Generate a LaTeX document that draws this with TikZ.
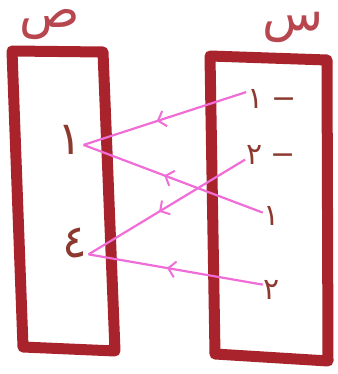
\documentclass[tikz,border=0pt]{standalone}
\usepackage{fontspec}
\newfontfamily\arabicfont[Script=Arabic]{DejaVu Sans}
\TeXXeTstate=1
\usetikzlibrary{arrows.meta,decorations.markings}
\definecolor{framered}{HTML}{A8232C}
\definecolor{labelred}{HTML}{B8464E}
\definecolor{digitbrown}{HTML}{8C3A30}
\definecolor{mappink}{HTML}{F06CD6}

\begin{document}
\begin{tikzpicture}[x=1pt, y=-1pt,
        frame/.style={draw=framered, line width=11pt, line join=round, line cap=round},
        setname/.style={text=labelred, font=\arabicfont\fontsize{50}{50}\selectfont, inner sep=0pt},
        num/.style={text=digitbrown, font=\arabicfont\fontsize{30}{30}\selectfont, inner sep=1pt},
        bignum/.style={num, font=\arabicfont\fontsize{46}{46}\selectfont},
        mapto/.style={draw=mappink, line width=2.2pt,
            decoration={markings, mark=at position 0.55 with {\arrow{Straight Barb[length=7pt, width=16pt, line width=2pt]}}},
            postaction={decorate}}]
        \useasboundingbox (0,0) rectangle (337,374);

        % Range set (y)
        \draw[frame] (12,51) -- (103,52) -- (115,351) -- (23,347) -- cycle;
        \node[setname] (ylabel) at (50,25) {\beginR ص\endR};
        \node[bignum] (y1) at (70,140) {\beginR ١\endR};
        \node[bignum] (y4) at (75,243) {\beginR ٤\endR};

        % Domain set (x)
        \draw[frame] (210,56) -- (327,60) -- (328,361) -- (215,354) -- cycle;
        \node[setname] (xlabel) at (293,27) {\beginR س\endR};
        \node[num] (xm1) at (272,99) {\beginR −\hspace{8pt}١\endR};
        \node[num] (xm2) at (271,155) {\beginR −\hspace{8pt}٢\endR};
        \node[num] (xp1) at (272,216) {\beginR ١\endR};
        \node[num] (xp2) at (272,290) {\beginR ٢\endR};

        % Mapping
        \draw[mapto] (xm1.165) -- (y1.-20);
        \draw[mapto] (xp1.160) -- (y1.-20);
        \draw[mapto] (xm2.190) -- (y4.-40);
        \draw[mapto] (xp2.150) -- (y4.-40);
    \end{tikzpicture}
\end{document}
